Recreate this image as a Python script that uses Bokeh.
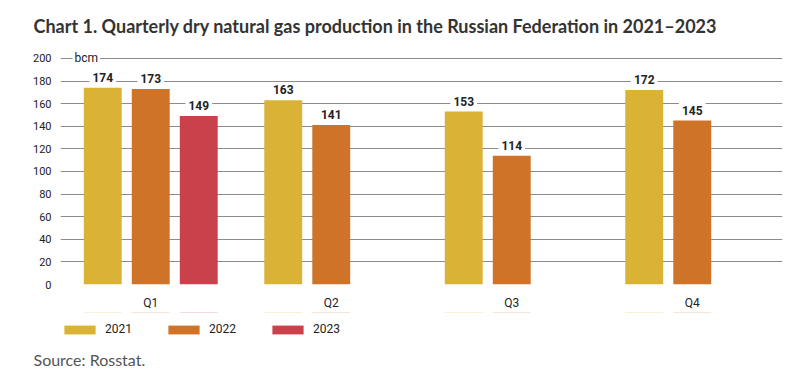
from bokeh.plotting import figure
from bokeh.layouts import column
from bokeh.models import (ColumnDataSource, FactorRange, Range1d, FixedTicker,
                          Label, Legend, LegendItem, Title, BoxAnnotation)
from bokeh.transform import dodge
from bokeh.embed import file_html
from bokeh.resources import INLINE

quarters = ["Q1", "Q2", "Q3", "Q4"]
years = ["2021", "2022", "2023"]
values_2021 = [174, 163, 153, 172]
values_2022 = [173, 141, 114, 145]
values_2023 = [149]
colors = ["#D9B236", "#CF7329", "#C9414B"]
offsets = [-0.266, 0.0, 0.266]
y_ticks = [0, 20, 40, 60, 80, 100, 120, 140, 160, 180, 200]

series = [values_2021, values_2022, values_2023]

p = figure(width=801, height=312, x_range=FactorRange(*quarters, range_padding=0),
           y_range=Range1d(0, 207), output_backend="svg", toolbar_location=None,
           min_border_left=60, min_border_right=19, min_border_top=50,
           min_border_bottom=24)
p.outline_line_color = None
p.background_fill_color = "white"
p.border_fill_color = "white"

p.title.text = "Chart 1. Quarterly dry natural gas production in the Russian Federation in 2021\u20132023"
p.title.align = "left"
p.title.vertical_align = "top"
p.title.offset = -27
p.title.standoff = 24
p.title.text_font = "Lato"
p.title.text_font_style = "bold"
p.title.text_font_size = "18px"
p.title.text_color = "#333333"

p.xgrid.grid_line_color = None
p.ygrid.grid_line_color = "#8c8c8c"
p.ygrid.grid_line_width = 1
p.yaxis.ticker = FixedTicker(ticks=y_ticks)

for ax in (p.xaxis[0], p.yaxis[0]):
    ax.axis_line_color = None
    ax.major_tick_line_color = None
    ax.minor_tick_line_color = None
    ax.major_label_text_font = "Roboto"
    ax.major_label_text_color = "#222222"
p.yaxis.major_label_text_font_size = "11px"
p.yaxis.major_label_standoff = 3
p.xaxis.major_label_text_font_size = "12px"
p.xaxis.major_label_standoff = 5

for yi, (yr, vals) in enumerate(zip(years, series)):
    src = ColumnDataSource(dict(q=quarters[:len(vals)], v=vals))
    p.vbar(x=dodge("q", offsets[yi], range=p.x_range), top="v", width=0.21,
           source=src, fill_color=colors[yi], line_color=None)
    for qi, v in enumerate(vals):
        p.add_layout(Label(x=qi + 0.5 + offsets[yi], y=v, y_offset=3, text=str(v),
                           text_align="center", text_baseline="bottom",
                           text_font="Roboto", text_font_style="bold",
                           text_font_size="12px", text_color="#222222",
                           background_fill_color="white", padding=3))

p.add_layout(Label(x=0, y=200, x_offset=12, text="bcm", text_align="left",
                   text_baseline="middle", text_font="Roboto", text_font_size="12px",
                   text_color="#222222", background_fill_color="white", padding=2))

# legend + source strip: zero-height copies of the bars provide the legend swatches
p2 = figure(width=801, height=56, x_range=FactorRange(*quarters, range_padding=0),
            y_range=Range1d(0, 1), output_backend="svg", toolbar_location=None,
            x_axis_location=None, y_axis_location=None,
            min_border=0, min_border_left=0, min_border_right=0,
            min_border_top=0, min_border_bottom=0)
p2.grid.visible = False
p2.outline_line_color = None
p2.background_fill_color = "white"
p2.border_fill_color = "white"

legend_renderers = []
for yi, (yr, vals) in enumerate(zip(years, series)):
    src = ColumnDataSource(dict(q=quarters[:len(vals)], v=vals))
    r = p2.vbar(x=dodge("q", offsets[yi], range=p2.x_range), top="v", bottom="v",
                width=0.21, source=src, fill_color=colors[yi], line_color=None)
    legend_renderers.append(r)

p2.add_layout(BoxAnnotation(bottom=0.5, top=1.0, fill_color="white", fill_alpha=1.0,
                            line_color=None))

legend = Legend(items=[LegendItem(label=yr, renderers=[r]) for yr, r in zip(years, legend_renderers)],
                orientation="horizontal", location=(0, 11),
                glyph_width=39, glyph_height=11, label_height=11, label_standoff=6,
                spacing=32, padding=0, margin=0, border_line_color=None,
                background_fill_alpha=0, label_text_font="Roboto",
                label_text_font_size="12px", label_text_color="#222222",
                label_text_baseline="middle")
p2.add_layout(legend, "center")

source_title = Title(text="Source: Rosstat.", align="left", offset=-27, standoff=0,
                     text_font="Lato", text_font_style="normal", text_font_size="16px",
                     text_color="#555555")
p2.add_layout(source_title, "below")

layout = column(p, p2, spacing=0)
open("out.html", "w").write(file_html(layout, INLINE))
